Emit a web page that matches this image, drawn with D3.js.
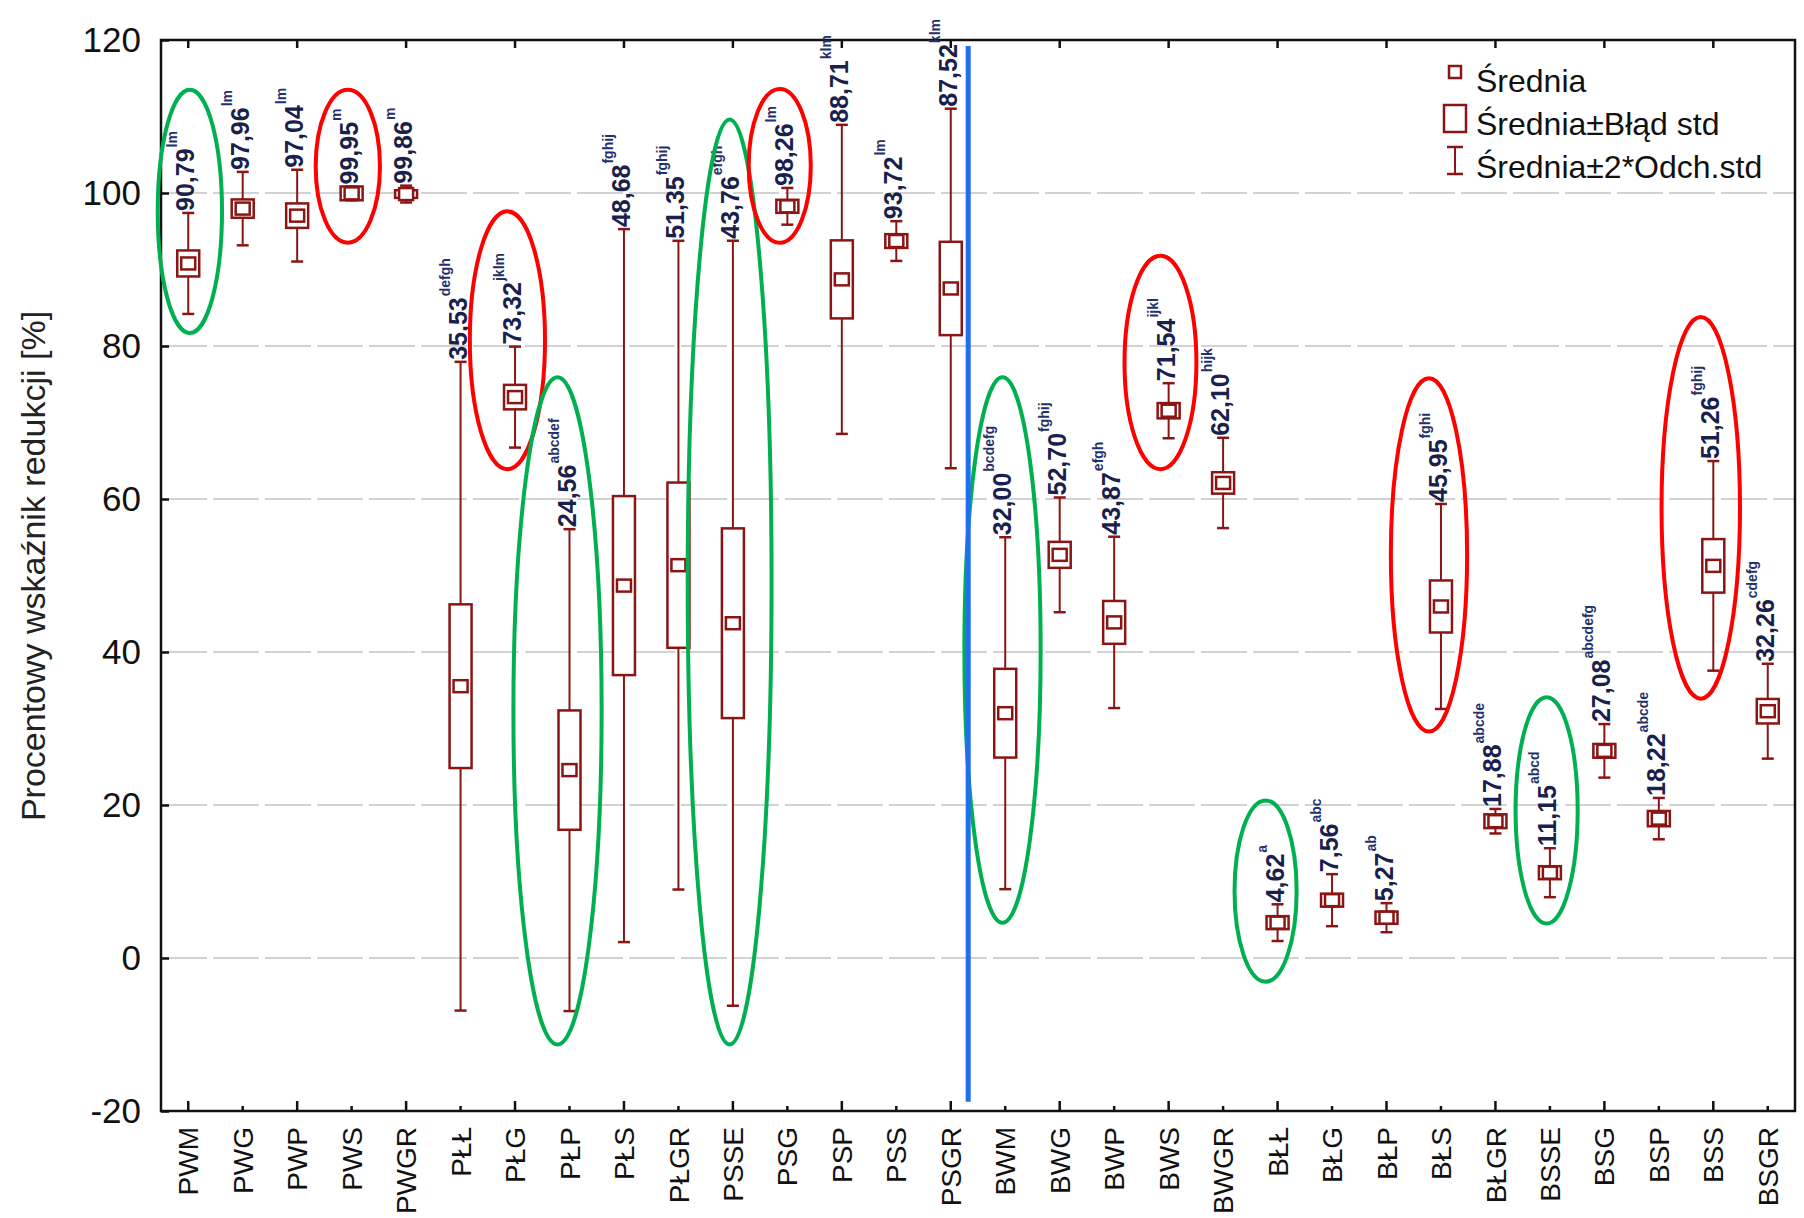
<!DOCTYPE html>
<html>
<head>
<meta charset="utf-8">
<script src="https://cdn.jsdelivr.net/npm/d3@7"></script>
<style>
  body { margin: 0; background: #fff; }
  text { font-family: "Liberation Sans", Arial, sans-serif; }
</style>
</head>
<body>
<div id="myVis"></div>
<script>
var w = 1804;
var h = 1218;

// Data
var categories = ["PWM", "PWG", "PWP", "PWS", "PWGR", "PŁŁ", "PŁG", "PŁP", "PŁS", "PŁGR",
                  "PSSE", "PSG", "PSP", "PSS", "PSGR", "BWM", "BWG", "BWP", "BWS", "BWGR",
                  "BŁŁ", "BŁG", "BŁP", "BŁS", "BŁGR", "BSSE", "BSG", "BSP", "BSS", "BSGR"];
var means = [90.79, 97.96, 97.04, 99.95, 99.86, 35.53, 73.32, 24.56, 48.68, 51.35,
             43.76, 98.26, 88.71, 93.72, 87.52, 32.00, 52.70, 43.87, 71.54, 62.10,
             4.62, 7.56, 5.27, 45.95, 17.88, 11.15, 27.08, 18.22, 51.26, 32.26];
// half height of the box (standard error)
var stdErr = [1.7, 1.2, 1.6, 0.9, 0.5, 10.7, 1.6, 7.8, 11.7, 10.8,
              12.4, 0.85, 5.1, 0.9, 6.1, 5.8, 1.7, 2.8, 1.0, 1.4,
              0.85, 0.85, 0.8, 3.4, 0.9, 0.85, 0.9, 1.0, 3.5, 1.6];
// half height of the whisker (2 * standard deviation)
var twoSd = [6.6, 4.8, 6.0, 0.9, 1.1, 42.4, 6.6, 31.5, 46.6, 42.4,
             50.0, 2.4, 20.2, 2.6, 23.5, 23.0, 7.5, 11.2, 3.6, 5.9,
             2.4, 3.4, 1.9, 13.4, 1.6, 3.2, 3.5, 2.7, 13.7, 6.2];
var letters = ["lm", "lm", "lm", "m", "m", "defgh", "jklm", "abcdef", "fghij", "fghij",
               "efgh", "lm", "klm", "lm", "klm", "bcdefg", "fghij", "efgh", "ijkl", "hijk",
               "a", "abc", "ab", "fghi", "abcde", "abcd", "abcdefg", "abcde", "fghij", "cdefg"];
var yTicks = [-20, 0, 20, 40, 60, 80, 100, 120];
var legendLabels = ["Średnia", "Średnia±Błąd std", "Średnia±2*Odch.std"];

// hand-drawn highlight ellipses: category, data range, colour
var marks = [
  { cat: "PWM",  shift: 0.03,  width: 0.59, hi: 113.5, lo: 81.7,  kind: "g" },
  { cat: "PWS",  shift: -0.07, width: 0.59, hi: 113.5, lo: 93.5,  kind: "r" },
  { cat: "PŁG",  shift: -0.14, width: 0.69, hi: 97.6,  lo: 63.9,  kind: "r" },
  { cat: "PŁP",  shift: -0.22, width: 0.81, hi: 75.9,  lo: -11.3, kind: "g" },
  { cat: "PSSE", shift: -0.06, width: 0.77, hi: 109.6, lo: -11.3, kind: "g" },
  { cat: "PSG",  shift: -0.14, width: 0.57, hi: 113.6, lo: 93.5,  kind: "r" },
  { cat: "BWM",  shift: -0.05, width: 0.70, hi: 75.9,  lo: 4.6,   kind: "g" },
  { cat: "BWS",  shift: -0.15, width: 0.66, hi: 91.8,  lo: 63.9,  kind: "r" },
  { cat: "BŁŁ",  shift: -0.22, width: 0.57, hi: 20.6,  lo: -3.1,  kind: "g" },
  { cat: "BŁS",  shift: -0.22, width: 0.70, hi: 75.8,  lo: 29.6,  kind: "r" },
  { cat: "BSSE", shift: -0.06, width: 0.57, hi: 34.1,  lo: 4.5,   kind: "g" },
  { cat: "BSS",  shift: -0.23, width: 0.72, hi: 83.8,  lo: 33.9,  kind: "r" }
];

var plotL = 161, plotR = 1795, plotT = 40, plotB = 1111;
var dark = "#8a1515";

var svg = d3.select("#myVis").append("svg")
  .attr("width", w)
  .attr("height", h)
  .style("background-color", "white");

var xScale = d3.scaleBand().domain(categories).range([plotL, plotR]);
var yScale = d3.scaleLinear().domain([-20, 120]).range([plotB, plotT]);
var bw = xScale.bandwidth();
function cx(c) { return xScale(c) + bw / 2; }

// grid lines
svg.append("g").selectAll("line")
  .data(yTicks.filter(function(t) { return t > -20 && t < 120; }))
  .enter().append("line")
  .attr("x1", plotL).attr("x2", plotR)
  .attr("y1", function(d) { return yScale(d); })
  .attr("y2", function(d) { return yScale(d); })
  .attr("stroke", "#d2d2d2")
  .attr("stroke-width", 2)
  .attr("stroke-dasharray", "46,6");

// y axis (ticks inward)
var yAxis = svg.append("g")
  .attr("transform", "translate(" + plotL + ",0)")
  .call(d3.axisLeft(yScale).tickValues(yTicks).tickSize(-8).tickPadding(20)
    .tickFormat(function(d) { return String(d); }));
yAxis.select(".domain").remove();
yAxis.selectAll("line").attr("stroke", "#111").attr("stroke-width", 2.5);
yAxis.selectAll("text").style("font-size", "35px").attr("fill", "#111");

// x axis labels
var xAxis = svg.append("g")
  .attr("transform", "translate(0," + plotB + ")")
  .call(d3.axisBottom(xScale).tickSize(0));
xAxis.select(".domain").remove();
xAxis.selectAll("text")
  .attr("transform", "rotate(-90)")
  .attr("text-anchor", "end")
  .attr("x", -16).attr("y", 0).attr("dy", "0.36em")
  .style("font-size", "28px").attr("fill", "#111");

// bottom and top ticks, alternating lengths
svg.append("g").selectAll("line")
  .data(categories).enter().append("line")
  .attr("x1", cx).attr("x2", cx)
  .attr("y1", plotB)
  .attr("y2", function(d, i) { return plotB - (i % 2 === 0 ? 10 : 5); })
  .attr("stroke", "#111").attr("stroke-width", 2.5);
svg.append("g").selectAll("line")
  .data(categories.filter(function(d, i) { return i % 2 === 0; })).enter().append("line")
  .attr("x1", cx).attr("x2", cx)
  .attr("y1", plotT).attr("y2", plotT + 8)
  .attr("stroke", "#111").attr("stroke-width", 2.5);

// frame
svg.append("rect")
  .attr("x", plotL).attr("y", plotT)
  .attr("width", plotR - plotL).attr("height", plotB - plotT)
  .attr("fill", "none").attr("stroke", "#111").attr("stroke-width", 2.5);

// y title
svg.append("text")
  .attr("transform", "translate(45,566) rotate(-90)")
  .attr("text-anchor", "middle")
  .style("font-size", "34px").attr("fill", "#222")
  .text("Procentowy wskaźnik redukcji [%]");

// boxes
var rows = categories.map(function(c, i) {
  return { c: c, m: means[i], se: stdErr[i], sd: twoSd[i], sup: letters[i] };
});
var g = svg.append("g").selectAll("g").data(rows).enter().append("g");

g.append("line")
  .attr("x1", function(d) { return cx(d.c); }).attr("x2", function(d) { return cx(d.c); })
  .attr("y1", function(d) { return yScale(d.m + d.sd); })
  .attr("y2", function(d) { return yScale(d.m - d.sd); })
  .attr("stroke", dark).attr("stroke-width", 2);
[1, -1].forEach(function(s) {
  g.append("line")
    .attr("x1", function(d) { return cx(d.c) - 6; }).attr("x2", function(d) { return cx(d.c) + 6; })
    .attr("y1", function(d) { return yScale(d.m + s * d.sd); })
    .attr("y2", function(d) { return yScale(d.m + s * d.sd); })
    .attr("stroke", dark).attr("stroke-width", 2.5);
});
g.append("rect")
  .attr("x", function(d) { return cx(d.c) - 11; })
  .attr("width", 22)
  .attr("y", function(d) { return yScale(d.m + d.se); })
  .attr("height", function(d) { return yScale(d.m - d.se) - yScale(d.m + d.se); })
  .attr("fill", "white").attr("stroke", dark).attr("stroke-width", 2.5);
g.append("rect")
  .attr("x", function(d) { return cx(d.c) - 7; })
  .attr("width", 14)
  .attr("y", function(d) { return yScale(d.m) - 6; })
  .attr("height", 12)
  .attr("fill", "white").attr("stroke", dark).attr("stroke-width", 2.5);

// value labels with letter groups
var lab = g.append("text")
  .attr("transform", function(d) {
    return "translate(" + (cx(d.c) + 6) + "," + (yScale(d.m + d.sd) - 2) + ") rotate(-90)";
  })
  .attr("fill", "#1a1f4d")
  .style("font-weight", "bold");
lab.append("tspan")
  .style("font-size", "25px")
  .text(function(d) { return d3.format(".2f")(d.m).replace(".", ","); });
lab.append("tspan")
  .attr("dx", 1)
  .attr("dy", -17)
  .style("font-size", "14px")
  .attr("fill", "#24306a")
  .text(function(d) { return d.sup; });

// highlight ellipses
svg.append("g").selectAll("ellipse")
  .data(marks).enter().append("ellipse")
  .attr("cx", function(d) { return cx(d.cat) + d.shift * bw; })
  .attr("cy", function(d) { return (yScale(d.hi) + yScale(d.lo)) / 2; })
  .attr("rx", function(d) { return d.width * bw; })
  .attr("ry", function(d) { return (yScale(d.lo) - yScale(d.hi)) / 2; })
  .attr("fill", "none")
  .attr("stroke", function(d) { return d.kind === "g" ? "#00b050" : "#ff0000"; })
  .attr("stroke-width", 4);

// blue separator between P and B groups
svg.append("line")
  .attr("x1", xScale("PSGR") + bw * 0.82).attr("x2", xScale("PSGR") + bw * 0.82)
  .attr("y1", yScale(119.2)).attr("y2", yScale(-18.8))
  .attr("stroke", "#1f6fef").attr("stroke-width", 5);

// legend
var lg = svg.append("g").attr("transform", "translate(1455,0)");
lg.append("rect").attr("x", -6).attr("y", 66).attr("width", 12).attr("height", 12)
  .attr("fill", "white").attr("stroke", dark).attr("stroke-width", 2.5);
lg.append("rect").attr("x", -11).attr("y", 105).attr("width", 22).attr("height", 27)
  .attr("fill", "white").attr("stroke", dark).attr("stroke-width", 2.5);
lg.append("line").attr("x1", 0).attr("x2", 0).attr("y1", 147).attr("y2", 174)
  .attr("stroke", dark).attr("stroke-width", 2);
lg.append("line").attr("x1", -8).attr("x2", 8).attr("y1", 147).attr("y2", 147)
  .attr("stroke", dark).attr("stroke-width", 2.5);
lg.append("line").attr("x1", -8).attr("x2", 8).attr("y1", 174).attr("y2", 174)
  .attr("stroke", dark).attr("stroke-width", 2.5);
lg.selectAll("text.leg").data(legendLabels).enter().append("text")
  .attr("class", "leg")
  .attr("x", 21)
  .attr("y", function(d, i) { return 92 + i * 43; })
  .style("font-size", "32px").attr("fill", "#111")
  .text(function(d) { return d; });
</script>
</body>
</html>
